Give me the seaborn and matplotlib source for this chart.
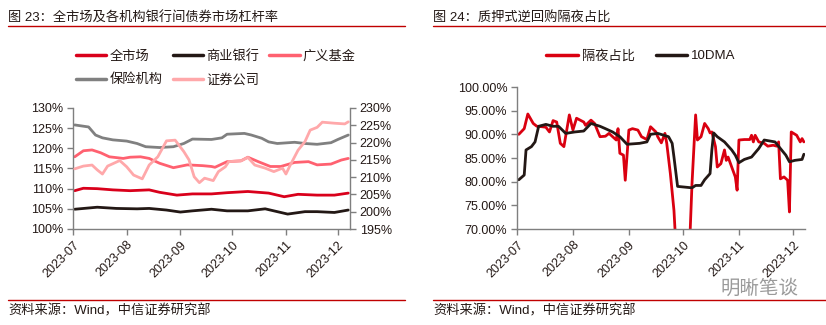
import matplotlib
matplotlib.use("Agg")
import matplotlib.pyplot as plt
import matplotlib.dates as mdates
from matplotlib.lines import Line2D
from matplotlib.ticker import FuncFormatter, MultipleLocator
import pandas as pd
import seaborn as sns

# ---------------- data: left panel (leverage ratios) ----------------
mkt_dates = ['2023-07-02', '2023-07-07', '2023-07-15', '2023-07-24', '2023-08-03', '2023-08-14',
             '2023-08-20', '2023-08-30', '2023-09-08', '2023-09-19', '2023-09-28', '2023-10-10',
             '2023-10-22', '2023-10-31', '2023-11-08', '2023-11-19', '2023-11-29', '2023-12-07']
mkt_vals = [109.5, 110.1, 110.0, 109.7, 109.5, 109.7, 109.1, 108.4, 108.7, 108.7, 109.0, 109.3,
            108.9, 108.0, 108.6, 108.4, 108.4, 108.9]

bank_dates = ['2023-07-02', '2023-07-15', '2023-07-26', '2023-08-07', '2023-08-14', '2023-08-24',
              '2023-09-01', '2023-09-08', '2023-09-19', '2023-09-28', '2023-10-10', '2023-10-20',
              '2023-10-25', '2023-11-02', '2023-11-12', '2023-11-19', '2023-11-29', '2023-12-07']
bank_vals = [104.9, 105.4, 105.1, 105.0, 105.1, 104.7, 104.2, 104.5, 104.9, 104.5, 104.5, 105.0,
             104.5, 103.7, 104.3, 104.3, 104.1, 104.7]

fund_dates = ['2023-07-02', '2023-07-07', '2023-07-12', '2023-07-17', '2023-07-22', '2023-07-30',
              '2023-08-03', '2023-08-09', '2023-08-14', '2023-08-20', '2023-08-28', '2023-09-05',
              '2023-09-14', '2023-09-19', '2023-09-21', '2023-09-28', '2023-10-06', '2023-10-10',
              '2023-10-16', '2023-10-23', '2023-10-29', '2023-11-06', '2023-11-14', '2023-11-19',
              '2023-11-27', '2023-12-03', '2023-12-07']
fund_vals = [117.9, 119.4, 119.6, 118.9, 117.9, 117.5, 117.8, 117.9, 117.5, 116.3, 115.2, 115.9,
             115.7, 115.5, 115.3, 116.7, 116.9, 117.8, 116.7, 115.5, 115.5, 116.5, 116.7, 115.9,
             116.1, 117.1, 117.5]

ins_dates = ['2023-07-02', '2023-07-10', '2023-07-14', '2023-07-18', '2023-07-24', '2023-08-01',
             '2023-08-07', '2023-08-12', '2023-08-20', '2023-08-28', '2023-09-03', '2023-09-08',
             '2023-09-19', '2023-09-25', '2023-09-28', '2023-10-08', '2023-10-12', '2023-10-18',
             '2023-10-22', '2023-10-27', '2023-11-06', '2023-11-12', '2023-11-19', '2023-11-27',
             '2023-12-01', '2023-12-07']
ins_vals = [125.8, 125.3, 123.3, 122.6, 122.1, 121.8, 121.2, 120.4, 120.2, 120.4, 121.2, 122.3,
            122.2, 122.6, 123.5, 123.7, 123.3, 122.5, 121.6, 121.2, 121.5, 121.2, 121.0, 121.4,
            122.2, 123.3]

sec_dates = ['2023-07-02', '2023-07-07', '2023-07-12', '2023-07-15', '2023-07-18', '2023-07-21',
             '2023-07-28', '2023-08-01', '2023-08-05', '2023-08-10', '2023-08-14', '2023-08-19',
             '2023-08-24', '2023-08-29', '2023-09-03', '2023-09-06', '2023-09-09', '2023-09-12',
             '2023-09-15', '2023-09-20', '2023-09-23', '2023-09-27', '2023-09-29', '2023-10-06',
             '2023-10-10', '2023-10-14', '2023-10-20', '2023-10-25', '2023-10-30', '2023-11-01',
             '2023-11-03', '2023-11-08', '2023-11-12', '2023-11-15', '2023-11-19', '2023-11-22',
             '2023-11-29', '2023-12-05', '2023-12-07']
sec_vals = [212.4, 213.2, 213.5, 212.1, 210.9, 213.2, 214.8, 213.0, 210.6, 209.5, 213.5, 215.9,
            220.5, 220.7, 217.4, 215.0, 210.1, 208.4, 209.7, 209.0, 211.6, 213.0, 214.5, 214.7,
            215.7, 213.5, 212.6, 211.6, 212.6, 210.9, 213.0, 217.8, 220.3, 223.6, 224.4, 225.9,
            225.6, 225.4, 226.0]

left_labels = ['全市场', '商业银行', '广义基金', '保险机构', '证券公司']
left_yticks = [100, 105, 110, 115, 120, 125, 130]
right_yticks = [195, 200, 205, 210, 215, 220, 225, 230]

# ---------------- data: right panel (overnight share) ----------------
on_dates = ['2023-07-02', '2023-07-05', '2023-07-07', '2023-07-10', '2023-07-12', '2023-07-15',
            '2023-07-17', '2023-07-19', '2023-07-21', '2023-07-23', '2023-07-25', '2023-07-27',
            '2023-07-30', '2023-08-01', '2023-08-03', '2023-08-07', '2023-08-08', '2023-08-11',
            '2023-08-13', '2023-08-16', '2023-08-19', '2023-08-21', '2023-08-23', '2023-08-25',
            '2023-08-26', '2023-08-27', '2023-08-29', '2023-08-30', '2023-09-01', '2023-09-03',
            '2023-09-06', '2023-09-08', '2023-09-11', '2023-09-13', '2023-09-16', '2023-09-17',
            '2023-09-19', '2023-09-21', '2023-09-22', '2023-09-24', '2023-09-26', '2023-09-28',
            '2023-10-04', '2023-10-06', '2023-10-08', '2023-10-09', '2023-10-11', '2023-10-13',
            '2023-10-15', '2023-10-16', '2023-10-17', '2023-10-19', '2023-10-20', '2023-10-22',
            '2023-10-24', '2023-10-25', '2023-10-26', '2023-10-28', '2023-10-30', '2023-10-31',
            '2023-11-01', '2023-11-04', '2023-11-07', '2023-11-08', '2023-11-09', '2023-11-10',
            '2023-11-12', '2023-11-15', '2023-11-17', '2023-11-20', '2023-11-22', '2023-11-23',
            '2023-11-24', '2023-11-26', '2023-11-28', '2023-11-29', '2023-11-30', '2023-12-03',
            '2023-12-05', '2023-12-06', '2023-12-07']
on_vals = [90.0, 91.2, 94.3, 92.3, 91.7, 91.6, 91.5, 90.5, 92.9, 92.6, 88.1, 87.4,
           94.1, 90.9, 93.4, 92.6, 91.9, 93.0, 92.3, 89.5, 89.6, 90.2, 89.5, 88.8,
           91.2, 86.0, 85.6, 80.3, 90.9, 91.2, 90.9, 89.5, 88.9, 91.6, 90.5, 89.5,
           88.2, 90.2, 88.1, 81.7, 73.9, 60.0, 60.0, 79.6, 94.1, 88.8, 89.5, 92.3,
           91.2, 90.3, 90.5, 87.4, 83.1, 83.8, 86.7, 84.5, 85.2, 83.1, 81.0, 78.2,
           88.8, 88.9, 88.9, 89.8, 88.4, 89.8, 88.4, 88.1, 87.5, 87.7, 87.5, 88.4,
           80.6, 81.0, 80.3, 73.6, 90.5, 89.8, 88.4, 89.1, 88.4]

ma_dates = ['2023-07-02', '2023-07-05', '2023-07-06', '2023-07-09', '2023-07-11', '2023-07-13',
            '2023-07-17', '2023-07-21', '2023-07-24', '2023-07-28', '2023-08-02', '2023-08-07',
            '2023-08-11', '2023-08-16', '2023-08-19', '2023-08-23', '2023-08-27', '2023-08-31',
            '2023-09-07', '2023-09-11', '2023-09-13', '2023-09-17', '2023-09-23', '2023-09-25',
            '2023-09-26', '2023-09-28', '2023-10-06', '2023-10-08', '2023-10-11', '2023-10-13',
            '2023-10-16', '2023-10-17', '2023-10-18', '2023-10-20', '2023-10-24', '2023-10-28',
            '2023-10-30', '2023-11-01', '2023-11-04', '2023-11-08', '2023-11-12', '2023-11-15',
            '2023-11-21', '2023-11-24', '2023-11-27', '2023-11-29', '2023-12-02', '2023-12-06',
            '2023-12-07']
ma_vals = [80.4, 81.4, 86.7, 87.4, 88.4, 91.7, 92.1, 91.7, 91.7, 90.2, 90.5, 90.7,
           92.3, 91.7, 91.2, 90.5, 89.5, 87.9, 88.1, 88.4, 90.0, 90.2, 89.5, 88.1,
           85.2, 79.0, 78.7, 79.2, 79.2, 80.4, 81.7, 86.7, 90.3, 89.5, 88.4, 86.7,
           85.6, 84.0, 84.7, 85.2, 87.0, 88.8, 88.4, 87.0, 85.6, 84.2, 84.5, 84.7,
           85.8]

right_labels = ['隔夜占比', '10DMA']
r_yticks = [70, 75, 80, 85, 90, 95, 100]

# ---------------- style ----------------
sns.set_theme(style="white")
plt.rcParams["font.family"] = ["Liberation Sans", "Noto Sans CJK SC"]
plt.rcParams["axes.unicode_minus"] = False

W, H = 826, 325
fig = plt.figure(figsize=(W / 100, H / 100), dpi=100)


def fx(x):
    return x / W


def fy(y):
    return 1 - y / H


TXT = "#231815"
SPINE = "#7f7f7f"
RULE = "#C00000"
FS = 9.5
TFS = 9
LW = 2.0

C_MKT = "#D9001B"
C_BANK = "#231815"
C_FUND = "#FF6170"
C_INS = "#808080"
C_SEC = "#FFA8AA"
C_ON = "#DA0010"
C_MA = "#231815"


def date_axis(ax, xmax):
    ax.set_xlim(pd.Timestamp('2023-07-01'), pd.Timestamp(xmax))
    ax.xaxis.set_major_locator(mdates.MonthLocator())
    ax.xaxis.set_major_formatter(mdates.DateFormatter('%Y-%m'))
    ax.tick_params(axis='x', bottom=True, length=4, width=1, color=SPINE,
                   labelsize=TFS, labelcolor=TXT, pad=3, direction='out')
    plt.setp(ax.get_xticklabels(), rotation=45, ha='right', rotation_mode='anchor')
    ax.set_xlabel('')


# ---------------- left panel ----------------
ax1 = fig.add_axes([fx(73), fy(229), fx(350) - fx(73), fy(108) - fy(229)])
sns.lineplot(x=pd.to_datetime(ins_dates), y=ins_vals, ax=ax1, color=C_INS, lw=LW)
sns.lineplot(x=pd.to_datetime(fund_dates), y=fund_vals, ax=ax1, color=C_FUND, lw=LW)
sns.lineplot(x=pd.to_datetime(mkt_dates), y=mkt_vals, ax=ax1, color=C_MKT, lw=LW)
sns.lineplot(x=pd.to_datetime(bank_dates), y=bank_vals, ax=ax1, color=C_BANK, lw=LW)
ax1.set_ylim(100, 130)
ax1.set_yticks(left_yticks)
ax1.yaxis.set_major_formatter(FuncFormatter(lambda v, p: f"{v:.0f}%"))
ax1.tick_params(axis='y', left=True, length=4, width=1, color=SPINE, labelsize=TFS,
                labelcolor=TXT, pad=3, direction='out')
ax1.set_ylabel('')
for s in ['top', 'right']:
    ax1.spines[s].set_visible(False)
for s in ['left', 'bottom']:
    ax1.spines[s].set_color(SPINE)
    ax1.spines[s].set_linewidth(1)
date_axis(ax1, '2023-12-08')

ax1b = ax1.twinx()
sns.lineplot(x=pd.to_datetime(sec_dates), y=sec_vals, ax=ax1b, color=C_SEC, lw=LW)
ax1b.set_ylim(195, 230)
ax1b.set_yticks(right_yticks)
ax1b.yaxis.set_major_formatter(FuncFormatter(lambda v, p: f"{v:.0f}%"))
ax1b.tick_params(axis='y', right=True, length=4, width=1, color=SPINE, labelsize=TFS,
                 labelcolor=TXT, pad=3, direction='out')
ax1b.set_ylabel('')
for s in ['top', 'left', 'bottom']:
    ax1b.spines[s].set_visible(False)
ax1b.spines['right'].set_color(SPINE)
ax1b.spines['right'].set_linewidth(1)
ax1b.set_xlim(pd.Timestamp('2023-07-01'), pd.Timestamp('2023-12-08'))

colors_left = [C_MKT, C_BANK, C_FUND, C_INS, C_SEC]
hl = [Line2D([], [], color=c, lw=2.5) for c in colors_left]
order = [0, 3, 1, 4, 2]
fig.legend([hl[i] for i in order], [left_labels[i] for i in order], ncol=3,
           loc='center', bbox_to_anchor=(fx(216), fy(68)), frameon=False,
           fontsize=FS, handlelength=2.3, handletextpad=0.25, columnspacing=0.75,
           labelspacing=0.85, borderpad=0, labelcolor=TXT)

# ---------------- right panel ----------------
ax2 = fig.add_axes([fx(517), fy(229), fx(805) - fx(517), fy(87) - fy(229)])
sns.lineplot(x=pd.to_datetime(on_dates), y=on_vals, ax=ax2, color=C_ON, lw=LW)
sns.lineplot(x=pd.to_datetime(ma_dates), y=ma_vals, ax=ax2, color=C_MA, lw=LW)
ax2.set_ylim(70, 100)
ax2.set_yticks(r_yticks)
ax2.yaxis.set_major_formatter(FuncFormatter(lambda v, p: f"{v:.2f}%"))
ax2.tick_params(axis='y', left=True, length=4, width=1, color=SPINE, labelsize=TFS,
                labelcolor=TXT, pad=3, direction='out')
ax2.set_ylabel('')
for s in ['top', 'right']:
    ax2.spines[s].set_visible(False)
for s in ['left', 'bottom']:
    ax2.spines[s].set_color(SPINE)
    ax2.spines[s].set_linewidth(1)
date_axis(ax2, '2023-12-07 15:00')

hr = [Line2D([], [], color=c, lw=2.5) for c in [C_ON, C_MA]]
fig.legend(hr, right_labels, ncol=2, loc='center', bbox_to_anchor=(fx(641), fy(56)),
           frameon=False, fontsize=FS, handlelength=2.4, handletextpad=0.3,
           columnspacing=1.6, borderpad=0, labelcolor=TXT)

# ---------------- titles, rules, source ----------------
fig.text(fx(8), fy(18), "图 23：全市场及各机构银行间债券市场杠杆率", fontsize=FS,
         ha='left', va='center', color=TXT)
fig.text(fx(433), fy(18), "图 24：质押式逆回购隔夜占比", fontsize=FS,
         ha='left', va='center', color=TXT)
for x0, x1 in [(8, 405), (433, 826)]:
    fig.add_artist(Line2D([fx(x0), fx(x1)], [fy(26), fy(26)], color=RULE, lw=1.0))
    fig.add_artist(Line2D([fx(x0), fx(x1)], [fy(300), fy(300)], color=RULE, lw=1.0))
fig.text(fx(8), fy(311), "资料来源：Wind，中信证券研究部", fontsize=FS,
         ha='left', va='center', color=TXT)
fig.text(fx(433), fy(311), "资料来源：Wind，中信证券研究部", fontsize=FS,
         ha='left', va='center', color=TXT)
fig.text(fx(721), fy(288), "明晰笔谈", fontsize=14, ha='left', va='center',
         color="#9a9a9a", family=["Noto Sans CJK SC"])

fig.savefig("out.png", dpi=100)
